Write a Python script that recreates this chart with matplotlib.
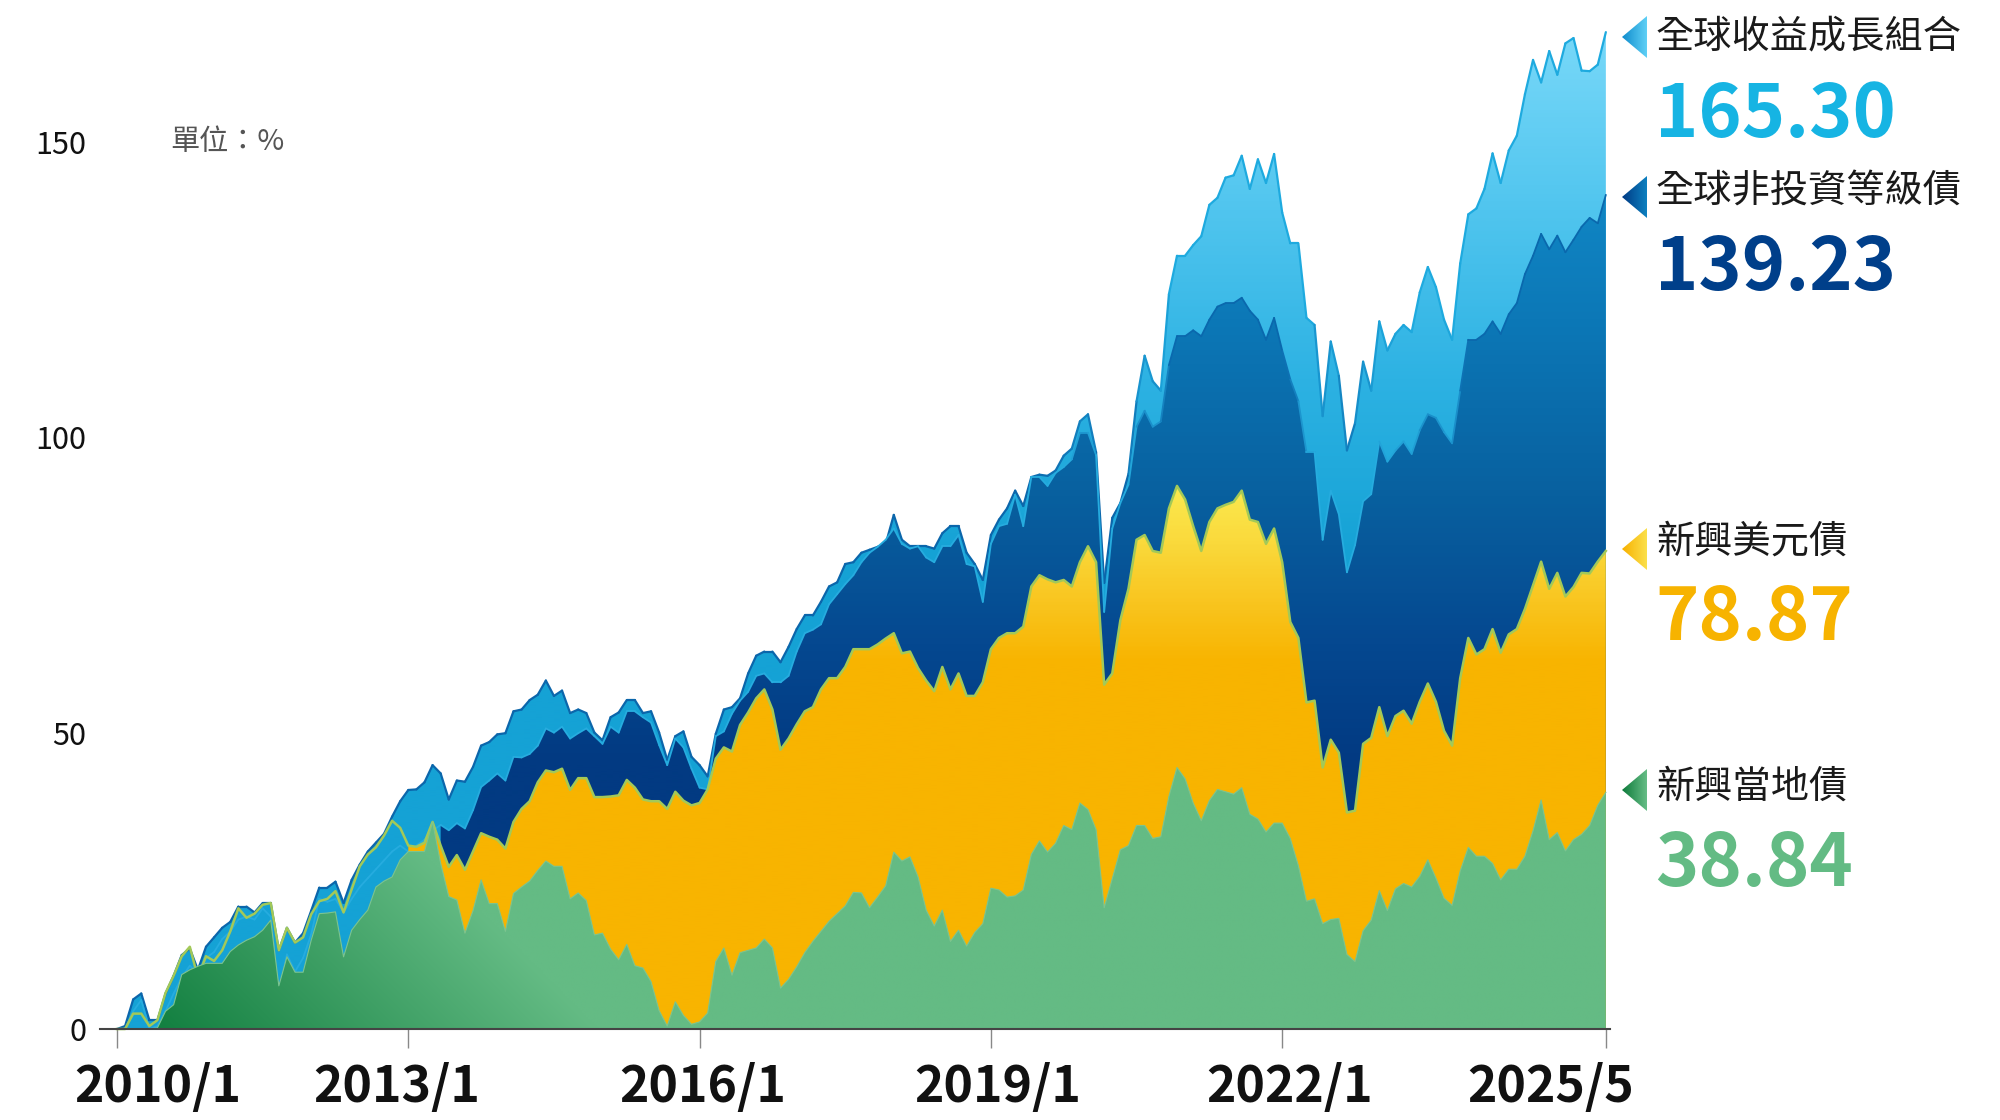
import numpy as np
import pandas as pd
import matplotlib
matplotlib.use('Agg')
import matplotlib.pyplot as plt
from matplotlib.colors import LinearSegmentedColormap, to_rgb
from matplotlib.collections import LineCollection
from matplotlib.patches import Polygon

plt.rcParams['font.family'] = ['Noto Sans CJK TC', 'DejaVu Sans']

# monthly points, 2010/1 .. 2025/5 (cumulative return, %)
months = pd.date_range('2010-01-01', '2025-05-01', freq='MS')
t = np.asarray(months.year + (months.month - 1) / 12, dtype=float)

# 全球收益成長組合
growth_mix = [
    0, 0.5, 5, 6, 1.5, 1.5, 6, 9, 12.5, 13.6, 10, 13.9,                          # 2010
    15.5, 17.1, 18.1, 20.7, 20.7, 19.7, 21.3, 21.3, 13.3, 17.1, 14.6, 16.2,      # 2011
    20, 23.9, 23.9, 24.9, 21.3, 25.2, 27.8, 30, 31.5, 33, 35.9, 38.5,            # 2012
    40.4, 40.5, 41.7, 44.6, 43.2, 38.8, 42, 41.8, 44.3, 47.9, 48.5, 49.8,        # 2013
    50, 53.7, 54, 55.6, 56.5, 58.9, 56.3, 57.2, 53.4, 54, 53.4, 50.1,            # 2014
    48.8, 52.7, 53.5, 55.6, 55.6, 53.4, 53.7, 50.1, 45.5, 49.5, 50.3, 46,        # 2015
    44.6, 42.7, 49.9, 54, 54.4, 55.9, 60.1, 63.1, 63.8, 63.8, 62, 64.6,          # 2016
    67.6, 69.9, 69.9, 72.2, 74.8, 75.5, 78.6, 78.9, 80.5, 81, 81.5, 82,          # 2017
    86.9, 82.7, 81.6, 81.6, 81.6, 81.2, 83.8, 85, 85, 80.5, 78.6, 75.9,          # 2018
    83.5, 86.1, 88, 91, 88.4, 93.3, 93.7, 93.5, 94.4, 96.9, 98.1, 102.7,         # 2019
    103.9, 97.5, 75.4, 86.4, 88.9, 93.8, 106.1, 113.8, 109.5, 107.9, 124.2, 130.7,   # 2020
    130.7, 132.5, 134, 139.3, 140.5, 143.9, 144.3, 147.6, 142, 147, 143, 147.9,      # 2021
    138, 132.8, 132.8, 120.2, 119, 103.6, 116.2, 110.4, 97.8, 102.4, 112.8, 107.9,   # 2022
    119.6, 114.7, 117.5, 119, 117.8, 124.5, 128.8, 125.4, 119.9, 116.5, 129.4, 137.7,  # 2023
    138.7, 142, 148, 143, 148.5, 151, 158, 163.8, 160, 165.3, 161.3, 166.6,          # 2024
    167.5, 162, 161.9, 163, 168.5,                                                   # 2025
]
# 全球非投資等級債
global_hy = [
    0, 0, 3, 4.9, 0, 0.5, 3, 6, 8.7, 10.7, 9.4, 12,
    13, 15.2, 16.5, 18.5, 19, 18.5, 20.4, 19, 5.5, 12.6, 9.7, 12,
    16, 22, 21.5, 22, 19.7, 22, 24, 25.5, 27, 28.5, 30, 31,
    30, 31, 32, 33.5, 34.5, 33.6, 34.8, 33.9, 37, 40.9, 42, 43.2,
    42, 46, 45.9, 46.5, 47.9, 50.8, 50.1, 51.1, 49.1, 50, 50.8, 49.5,
    48.2, 51.1, 50.1, 53.7, 53.7, 52.7, 51.8, 48, 44.6, 49.1, 47.6, 44,
    40.8, 40.5, 49.5, 50.3, 53.3, 55.5, 57, 59.7, 60.1, 58.6, 58.6, 59.7,
    63.8, 66.9, 67.5, 68.4, 71.8, 73.5, 75.2, 76.7, 78.9, 80.5, 81.5, 82.7,
    84.6, 82, 81.2, 81.6, 79.7, 78.9, 81.6, 81.6, 83.5, 78.6, 78.2, 72.2,
    82, 85, 85.4, 90.3, 85, 93.3, 93.3, 91.8, 94, 95, 96.3, 100.8,
    100.8, 97, 70.5, 84.6, 88.9, 92, 101.8, 104.5, 101.8, 102.7, 112.2, 117.1,
    117.1, 118.1, 117.1, 119.9, 122.1, 122.7, 122.7, 123.6, 121.4, 119.9, 116.5, 120.2,
    114.7, 109.8, 106.1, 97.5, 97.5, 82.7, 91, 87, 77.2, 81.8, 89.2, 90.4,
    99.3, 95.9, 97.8, 99.3, 97.2, 101.2, 103.9, 103.3, 100.9, 99, 107.9, 116.5,
    116.5, 117.5, 119.6, 117.5, 120.8, 122.7, 127.6, 130.7, 134.4, 131.8, 134.1, 131.3,
    133.4, 135.6, 137.1, 136.2, 141,
]
# 新興美元債
em_usd = [
    0, 0, 2.6, 2.6, 0.5, 1.5, 6.1, 9, 12.3, 13.9, 8.7, 12.3,
    11.5, 13.3, 16.5, 20.4, 18.8, 19.5, 21, 21.3, 13.3, 17.1, 14.6, 15.5,
    19.4, 21.6, 22, 23.3, 19.7, 23.6, 27.5, 29.5, 30.7, 32.7, 35.2, 34,
    31, 30.8, 31.5, 35, 31, 27.4, 29.4, 26.9, 30, 33.1, 32.5, 32,
    30.5, 35, 37.2, 38.5, 41.7, 43.7, 43.4, 44, 40.4, 42.4, 42.4, 39.2,
    39.2, 39.3, 39.5, 42.1, 40.8, 38.8, 38.5, 38.5, 37.2, 40.1, 38.6, 37.8,
    38.2, 40.5, 45.7, 47.6, 46.9, 51.4, 53.5, 55.9, 57.4, 54, 47.2, 49.1,
    51.5, 53.7, 54.4, 57.4, 59.3, 59.3, 61.2, 64.2, 64.2, 64.2, 65, 66,
    66.9, 63.5, 63.8, 61, 58.9, 57.1, 61.2, 57.4, 60.1, 56.3, 56.3, 58.6,
    64.2, 66.1, 66.9, 66.9, 68, 74.8, 76.7, 76, 75.5, 75.9, 74.8, 78.9,
    81.6, 78.9, 58.2, 60.1, 69.1, 74.4, 82.7, 83.5, 80.8, 80.5, 88, 91.8,
    89.5, 85, 80.8, 85.7, 88, 88.6, 89.1, 91, 86.1, 85.7, 82, 84.6,
    78.9, 68.8, 66.1, 55.2, 55.5, 44.2, 48.9, 46.7, 36.6, 36.9, 48.2, 49.2,
    54.4, 49.5, 52.9, 53.8, 51.6, 55.3, 58.4, 55.3, 50.4, 47.9, 59.3, 66.1,
    63.3, 64.2, 67.6, 63.6, 66.7, 67.6, 71, 75, 79, 74.4, 77.1, 73.1,
    74.7, 77.1, 77, 79, 80.8,
]
# 新興當地債
em_local = [
    0, 0, 0, 0, 0, 0.2, 3, 4.1, 9.2, 10, 10.6, 11.1,
    11.1, 11.1, 13.1, 14.2, 15, 15.6, 16.7, 18.4, 7.3, 12.2, 9.6, 9.6,
    15, 19.5, 19.6, 19.8, 12.2, 16.7, 18.5, 20.1, 24, 25, 25.7, 28.6,
    30, 30, 30, 35, 28, 22.4, 21.8, 16.2, 20, 25.2, 21.2, 21.2,
    16.5, 22.9, 24, 25, 26.8, 28.4, 27.5, 27.5, 22, 23, 21.7, 15.9,
    16.2, 13.5, 11.7, 14.3, 10.7, 10.3, 8, 3.1, 0.5, 4.6, 2.3, 0.8,
    1.2, 2.7, 11.4, 13.7, 9.1, 12.9, 13.3, 13.7, 15.2, 13.7, 6.9, 8.4,
    10.5, 12.9, 14.8, 16.5, 18.2, 19.5, 20.8, 23.1, 23, 20.5, 22.3, 24.2,
    29.9, 28.4, 29.1, 25.7, 20.1, 17.4, 20.1, 14.8, 16.7, 14, 16.3, 17.8,
    23.8, 23.5, 22.3, 22.5, 23.5, 29.5, 31.8, 29.9, 31.4, 34.4, 33.7, 38.2,
    37.1, 33.7, 20.5, 25.4, 30.3, 31, 34.4, 34.4, 32.2, 32.5, 39.3, 44.2,
    42.3, 38.2, 35.2, 38.6, 40.5, 40.1, 39.7, 40.8, 36.3, 35.5, 33.3, 34.8,
    34.8, 32.2, 27.6, 21.6, 22, 17.8, 18.5, 18.7, 12.6, 11.4, 16.6, 18.4,
    23.4, 20, 23.7, 24.6, 24, 25.8, 28.6, 25.5, 22.1, 20.9, 26.7, 30.7,
    29.2, 29.2, 28, 25.2, 27, 27, 29.2, 33.5, 38.7, 32, 33.2, 30.1,
    32, 32.9, 34.4, 37.8, 40,
]

names = ['全球收益成長組合', '全球非投資等級債', '新興美元債', '新興當地債']
final_values = ['165.30', '139.23', '78.87', '38.84']
value_colors = ['#16b4e3', '#003f8a', '#f7b300', '#63bb84']

tick_pos = [2010, 2013, 2016, 2019, 2022, 2025 + 4 / 12]
tick_labels = ['2010/1', '2013/1', '2016/1', '2019/1', '2022/1', '2025/5']

XLO, XHI = 2009.825, 2025.376
YLO, YHI = -3, 172

fig = plt.figure(figsize=(20, 11.2), dpi=100)
ax = fig.add_axes([0.05, 0.0654, 0.755, 0.9244])


def value_cmap(stops):
    pts = [((v - YLO) / (YHI - YLO), c) for v, c in stops]
    pts = [(0.0, pts[0][1])] + pts + [(1.0, pts[-1][1])]
    return LinearSegmentedColormap.from_list('g', pts)


def gradient_area(x, y, stops, z):
    poly = ax.fill_between(x, y, 0, facecolor='none', edgecolor='none', zorder=z)
    grad = np.linspace(YLO, YHI, 600)[:, None]
    im = ax.imshow(grad, extent=[XLO, XHI, YLO, YHI], origin='lower', aspect='auto',
                   cmap=value_cmap(stops), vmin=YLO, vmax=YHI, zorder=z,
                   interpolation='bilinear')
    im.set_clip_path(poly.get_paths()[0], ax.transData)


def stroke(x, y, c_lo, c_hi, v0, v1, lw, z):
    x = np.asarray(x); y = np.asarray(y)
    pts = np.column_stack([x, y])
    segs = np.stack([pts[:-1], pts[1:]], axis=1)
    mid = (y[:-1] + y[1:]) / 2
    f = np.clip((mid - v0) / (v1 - v0), 0, 1)[:, None]
    cols = np.array(to_rgb(c_lo)) * (1 - f) + np.array(to_rgb(c_hi)) * f
    ax.add_collection(LineCollection(segs, colors=cols, linewidths=lw, zorder=z,
                                     capstyle='round', joinstyle='round'))


lb = np.array(growth_mix)
nv = np.array(global_hy)
ye = np.array(em_usd)
gr = np.array(em_local)

# light blue (back)
gradient_area(t, lb, [(80, '#15a2d5'), (110, '#2db2e3'), (140, '#52c6ef'), (170, '#7ad9f9')], 1)
stroke(t, lb, '#0b66ab', '#1eaadf', 90, 120, 1.6, 2)

# navy, fill starts 2013/5
nv_from = 40
gradient_area(t[nv_from:], nv[nv_from:],
              [(45, '#023a82'), (65, '#054890'), (90, '#08609f'), (120, '#0c78b7'), (145, '#1189c7')], 3)
stroke(t, nv, '#26acdf', '#0a68ad', 95, 115, 1.3, 4)

# yellow, fill starts 2013/1
ye_from = 36
gradient_area(t[ye_from:], ye[ye_from:],
              [(62, '#f8b400'), (72, '#f9c51f'), (82, '#fad93b'), (92, '#fbea50')], 5)
ax.plot(t, ye, color='#a3c958', lw=1.8, zorder=6, solid_joinstyle='round')

# green, diagonal gradient from the lower left corner
poly = ax.fill_between(t, gr, 0, facecolor='none', edgecolor='none', zorder=7)
tt = np.linspace(XLO, XHI, 800)[None, :]
vv = np.linspace(YHI, YLO, 600)[:, None]
f = np.clip(((tt - 2010) * 97.1 + vv * 5.916) / 480, 0, 1)[..., None]
dark = np.array(to_rgb('#0b7a3a'))
light = np.array(to_rgb('#64bb84'))
im = ax.imshow(dark * (1 - f) + light * f, extent=[XLO, XHI, YLO, YHI], origin='upper',
               aspect='auto', zorder=7, interpolation='bilinear')
im.set_clip_path(poly.get_paths()[0], ax.transData)
ax.plot(t, gr, color='#7cc48f', lw=0.8, zorder=8)

ax.set_xlim(XLO, XHI)
ax.set_ylim(YLO, YHI)
for s in ['left', 'right', 'top']:
    ax.spines[s].set_visible(False)
ax.spines['bottom'].set_position(('data', 0))
ax.spines['bottom'].set_color('#444444')
ax.spines['bottom'].set_linewidth(1.5)
ax.spines['bottom'].set_zorder(10)
ax.set_xticks(tick_pos)
ax.set_xticklabels([])
ax.tick_params(axis='x', length=14, width=1.0, color='#888888', direction='out')
ax.set_yticks([0, 50, 100, 150])
ax.set_yticklabels(['0', '50', '100', '150'], fontsize=22, color='#111111')
ax.tick_params(axis='y', length=0, pad=10)
ax.patch.set_alpha(0)

# x labels (first and last pulled inward like the original)
offsets = [(-31, 'left'), (-8, 'center'), (2, 'center'), (5, 'center'), (5, 'center'), (20, 'right')]
for pos, lbl, (dx, ha) in zip(tick_pos, tick_labels, offsets):
    ax.annotate(lbl, (pos, 0), xytext=(dx, -42), textcoords='offset points',
                ha=ha, va='center', fontsize=36, fontweight='bold', color='#111111',
                annotation_clip=False)

# overlay in pixel coordinates for the right-hand legend
ov = fig.add_axes([0, 0, 1, 1])
ov.set_xlim(0, 2000)
ov.set_ylim(1120, 0)
ov.axis('off')

ov.text(170, 142, '單位：%', fontsize=21, color='#555555', va='center', ha='left')

label_y = [37, 191, 542, 787]
value_y = [137, 290, 640, 886]
tri_y = [37, 197, 549, 790]
tri_cols = [('#0f8ccd', '#5fd0f6'), ('#003a84', '#0d80c0'),
            ('#f7b000', '#fbe04a'), ('#0d7a3a', '#66bd86')]
for name, val, vc, ly, vy, ty, (c0, c1) in zip(names, final_values, value_colors,
                                                label_y, value_y, tri_y, tri_cols):
    ov.text(1656, ly, name, fontsize=27.5, color='#1a1a1a', va='center', ha='left')
    ov.text(1655, vy, val, fontsize=53, fontweight='bold', color=vc,
            va='baseline', ha='left')
    tri = Polygon([[1622, ty], [1647, ty - 21], [1647, ty + 21]], closed=True,
                  facecolor='none', edgecolor='none')
    ov.add_patch(tri)
    g = np.linspace(0, 1, 64)[None, :, None]
    img = np.array(to_rgb(c0)) * (1 - g) + np.array(to_rgb(c1)) * g
    ti = ov.imshow(np.repeat(img, 2, axis=0), extent=[1622, 1647, ty + 21, ty - 21],
                   aspect='auto', interpolation='bilinear')
    ti.set_clip_path(tri)

ov.set_xlim(0, 2000)
ov.set_ylim(1120, 0)

fig.savefig('out.png', dpi=100)
